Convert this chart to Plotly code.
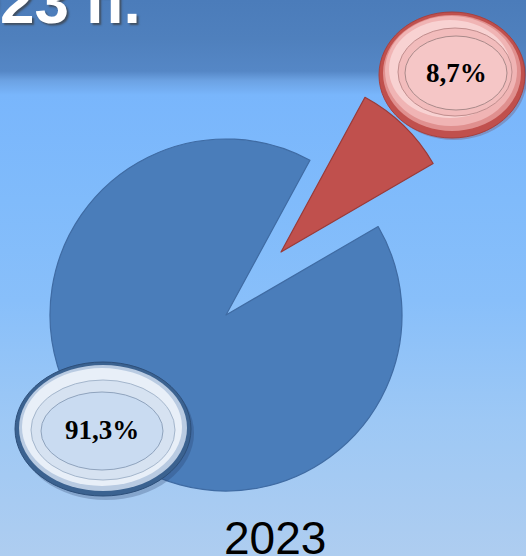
import plotly.graph_objects as go

# ---------------- data ----------------
categories = ["Категория 1", "Категория 2"]
values = [8.7, 91.3]
slice_colors = ["#c0504d", "#4a7dba"]
year_label = "2023"
title_text = "2023 п."

W, H = 526, 556


def dom(cx, cy, r):
    return dict(x=[(cx - r) / W, (cx + r) / W], y=[1 - (cy + r) / H, 1 - (cy - r) / H])


def px(x):
    return x / W


def py(y):
    return 1 - y / H


def fmt(v):
    return f"{v:.1f}%".replace(".", ",")


fig = go.Figure()

# background gradient (cartesian layer sits below the pies)
bg_scale = [
    [0.0, "#aecdf0"],
    [0.245, "#9dc8f5"],
    [0.46, "#88bffa"],
    [0.64, "#80bbfb"],
    [0.829, "#79b6fc"],
    [0.855, "#6ca2e3"],
    [0.872, "#5587c6"],
    [0.93, "#4f80bd"],
    [1.0, "#4b7cba"],
]
fig.add_trace(go.Scatter(
    x=[0, 1, 1, 0, 0], y=[0, 0, 1, 1, 0], mode="lines", fill="toself",
    line=dict(width=0), fillgradient=dict(type="vertical", colorscale=bg_scale, start=0, stop=1),
    hoverinfo="skip", showlegend=False,
))

transparent = "rgba(0,0,0,0)"
ROT = 28.5
R = 176

# blue (large) slice: pie centred in place, small slice hidden
fig.add_trace(go.Pie(
    labels=categories, values=values, sort=False, direction="clockwise", rotation=ROT,
    marker=dict(colors=[transparent, slice_colors[1]],
                line=dict(color=[transparent, "#3f6ba3"], width=[0, 1.2])),
    textinfo="none", hoverinfo="label+percent", showlegend=False,
    domain=dom(226, 315, R),
))
# red (small) slice: same pie, pulled out to the upper right
fig.add_trace(go.Pie(
    labels=categories, values=values, sort=False, direction="clockwise", rotation=ROT,
    marker=dict(colors=[slice_colors[0], transparent],
                line=dict(color=["#9a3a38", transparent], width=[1.2, 0])),
    textinfo="none", hoverinfo="label+percent", showlegend=False,
    domain=dom(281, 252, R),
))

shapes = []


def ell(cx, cy, rx, ry, fill, line=None, lw=0):
    shapes.append(dict(
        type="circle", xref="paper", yref="paper", layer="above",
        x0=px(cx - rx), x1=px(cx + rx), y0=py(cy + ry), y1=py(cy - ry),
        fillcolor=fill, line=dict(color=line or transparent, width=lw),
    ))


# red badge
ell(454, 78, 73, 62, "rgba(120,40,40,0.25)")
ell(452, 75, 73, 63, "#c0504d", "#a8403e", 1)
ell(452, 73, 69, 58, "#e0908f")
ell(451, 71, 66, 55, "#f0b4b4")
ell(450, 69, 61, 49, "#f8d2d2")
ell(455, 72, 57, 44, "#f2bcbc", "#c08e8e", 1)
ell(456, 73, 51, 37, "#f5c6c6", "#a98a8a", 1)

# blue badge
ell(106, 433, 88, 67, "rgba(30,50,90,0.25)")
ell(103, 429, 88, 67, "#3b6290", "#2d4f7a", 1)
ell(103, 428, 84, 63, "#b9cbe2")
ell(102, 427, 80, 59, "#e8eff8")
ell(103, 430, 72, 50, "#d6e2f1", "#a4b6cc", 1)
ell(102, 431, 61, 39, "#c9dbf1", "#8fa3bd", 1)

annotations = [
    dict(text=fmt(values[0]), x=px(456), y=py(73), xref="paper", yref="paper",
         showarrow=False, xanchor="center", yanchor="middle",
         font=dict(family="Liberation Serif, Times New Roman, serif", size=27, color="black", weight="bold")),
    dict(text=fmt(values[1]), x=px(102), y=py(430), xref="paper", yref="paper",
         showarrow=False, xanchor="center", yanchor="middle",
         font=dict(family="Liberation Serif, Times New Roman, serif", size=27, color="black", weight="bold")),
    dict(text=year_label, x=px(275), y=py(538), xref="paper", yref="paper",
         showarrow=False, xanchor="center", yanchor="middle",
         font=dict(family="Liberation Sans, Arial, sans-serif", size=46, color="black")),
    dict(text=title_text, x=px(143), y=py(2), xref="paper", yref="paper",
         showarrow=False, xanchor="right", yanchor="middle",
         font=dict(family="Liberation Sans, Arial, sans-serif",
                   size=62, color="white", weight="bold",
                   shadow="2px 2px 2px rgba(60,60,60,0.7)")),
]

fig.update_layout(
    width=W, height=H, margin=dict(l=0, r=0, t=0, b=0),
    paper_bgcolor="#79b6fc", plot_bgcolor="rgba(0,0,0,0)",
    xaxis=dict(range=[0, 1], visible=False, fixedrange=True, domain=[0, 1]),
    yaxis=dict(range=[0, 1], visible=False, fixedrange=True, domain=[0, 1]),
    shapes=shapes, annotations=annotations, showlegend=False,
)

fig.write_html("out.html", config={"displayModeBar": False},
               post_script="document.body.style.margin='0';document.body.style.overflow='hidden';")
